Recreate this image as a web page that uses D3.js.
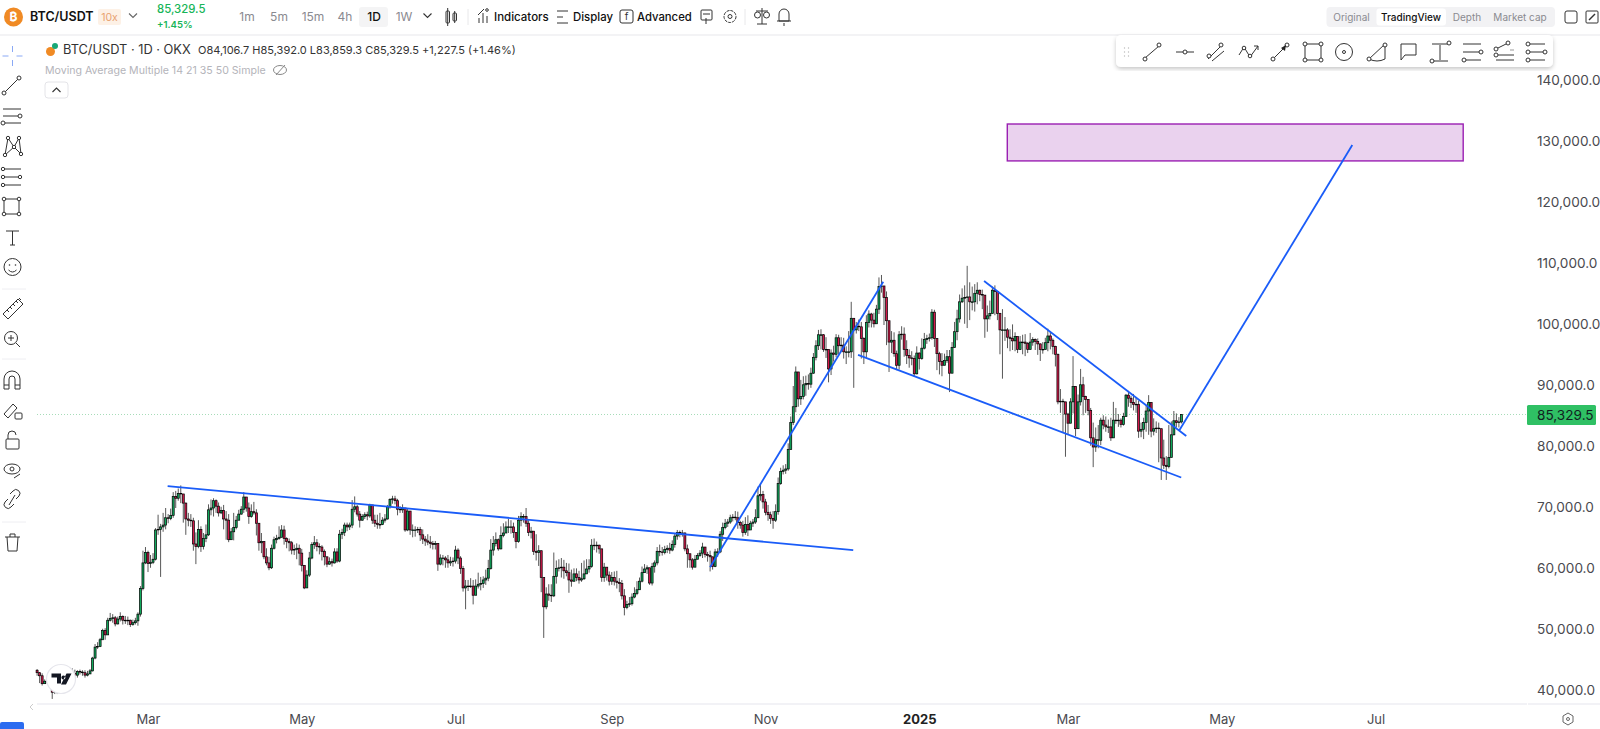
<!DOCTYPE html>
<html>
<head>
<meta charset="utf-8">
<script src="https://d3js.org/d3.v7.min.js"></script>
<style>
body { margin: 0; background: #fff; overflow: hidden; }
svg { display: block; }
text { font-family: Inter, "Noto Sans", sans-serif; }
</style>
</head>
<body>
<svg id="chart" width="1600" height="729"></svg>
<script>
// daily candles, thousands of USDT, first candle 2024-01-17
const firstDay = "2024-01-17"
const firstOpen = 43.4
const closes = [
  43.0,42.5,41.2,41.6,41.6,41.0,39.8,40.0,39.9,41.0,41.9,42.1,42.4,43.2,42.9,
  42.6,43.2,43.1,43.0,42.6,42.8,43.3,45.4,47.2,47.3,48.4,49.9,49.2,51.6,51.9,52.0,51.0,51.8,52.2,51.6,51.5,51.6,50.9,51.2,51.5,52.6,56.8,61.0,62.7,
  60.9,61.1,61.6,66.4,66.5,66.9,67.2,68.4,68.3,68.8,71.9,71.6,72.4,72.3,70.8,68.2,68.0,67.9,64.1,63.7,66.5,63.7,65.0,65.6,69.7,70.0,71.2,70.3,69.2,69.6,68.2,
  68.0,64.8,66.1,66.8,68.0,69.0,69.8,71.8,70.0,68.6,69.4,69.2,67.5,64.3,64.5,62.0,61.0,60.2,63.4,64.8,65.0,65.2,66.4,65.0,64.5,64.3,63.1,63.2,63.4,62.6,
  60.6,56.9,59.0,61.8,64.0,64.3,63.7,63.6,62.9,62.0,60.8,61.2,61.0,62.8,61.3,65.7,66.0,67.2,66.9,67.2,69.8,70.2,69.0,68.0,68.6,68.9,68.7,70.5,68.0,67.5,67.3,
  67.3,68.0,68.2,70.2,71.4,71.5,71.2,69.8,69.7,70.0,66.4,69.5,66.4,66.4,66.4,66.5,65.6,64.9,64.6,64.4,64.2,64.0,64.2,60.8,61.8,61.8,61.5,61.0,61.2,61.3,
  63.1,61.8,60.1,56.9,57.2,57.2,57.2,55.7,57.2,57.5,57.6,58.2,58.5,60.1,63.1,64.2,64.8,63.3,65.5,65.9,66.9,66.9,66.9,66.0,64.5,68.0,68.6,68.6,67.5,66.0,66.2,
  62.9,62.7,63.0,58.6,53.8,55.9,55.7,55.6,58.8,60.1,60.2,60.3,59.7,59.4,58.2,58.0,59.2,58.6,58.2,58.4,59.2,60.0,60.4,63.9,63.9,63.9,63.3,58.6,60.3,59.0,58.0,
  58.6,58.0,57.8,57.6,55.6,53.7,54.2,54.3,55.4,56.0,56.6,58.0,59.4,60.0,60.2,57.7,60.4,61.0,62.9,62.8,62.7,63.2,63.4,63.1,64.0,65.4,66.0,65.9,65.9,63.3,
  62.5,61.5,60.3,61.6,62.2,62.6,63.6,62.4,62.2,62.0,60.4,62.8,62.8,65.7,66.8,67.5,67.7,68.4,68.5,68.4,67.6,67.2,66.0,67.3,66.4,67.5,67.7,68.4,72.0,72.2,71.0,
  69.3,68.9,68.3,68.0,69.4,74.0,76.0,76.2,76.4,79.6,84.0,86.6,92.3,87.9,88.3,90.2,90.4,90.3,92.1,94.7,96.6,98.4,98.4,96.0,96.0,92.8,95.4,95.2,97.9,96.6,
  96.7,95.6,95.6,95.6,101.1,99.2,99.8,99.7,97.8,95.6,100.4,101.8,100.8,100.2,102.6,106.3,106.4,104.5,100.7,97.2,97.5,95.3,93.4,98.4,98.5,96.0,95.0,94.6,94.5,92.0,95.4,
  94.5,96.2,97.6,97.8,97.9,102.1,97.8,95.3,94.0,93.4,94.2,94.8,92.1,96.3,98.9,101.0,103.8,104.4,104.5,104.6,103.8,103.8,105.2,105.7,105.0,104.9,101.0,101.5,101.9,105.7,105.5,
  101.9,99.2,99.2,99.2,98.0,97.8,97.4,98.1,96.0,97.2,97.2,97.0,96.0,97.2,97.6,97.3,96.9,96.0,96.0,97.1,98.2,97.5,96.5,95.2,87.4,87.5,87.4,85.4,
  83.9,87.4,89.9,83.0,87.4,90.2,88.3,87.8,86.0,81.5,80.0,81.2,81.1,84.4,83.6,83.3,83.3,81.5,84.4,84.4,84.4,83.7,85.0,88.5,88.0,87.3,87.0,87.0,82.6,82.9,84.0,
  85.9,87.3,82.6,83.0,83.1,83.0,78.2,77.0,76.8,78.3,82.0,84.3,84.0,84.1067,85.3295
]
const highs = [
  43.6,43.1,42.9,41.9,41.8,42.0,40.6,40.6,40.5,41.3,42.2,42.5,43.2,43.8,43.7,
  43.5,43.4,43.5,43.4,43.4,43.3,43.6,45.6,47.7,48.0,48.7,50.2,50.3,52.0,52.8,52.6,52.3,52.2,52.9,52.4,52.3,52.2,51.7,51.7,52.0,52.9,57.2,63.0,63.6,
  63.0,62.3,62.6,66.7,68.9,67.4,69.2,70.0,69.0,69.9,72.6,72.8,73.2,73.7,72.2,70.9,69.2,69.0,68.4,66.0,68.0,67.0,65.9,67.3,70.6,71.4,71.6,71.4,70.9,70.2,70.5,
  69.5,69.0,66.7,69.2,68.7,69.7,70.3,72.6,71.7,70.9,70.6,71.0,69.8,65.9,65.9,64.0,63.4,62.0,64.0,65.3,65.6,67.0,67.2,67.1,65.2,65.0,64.6,64.0,64.2,64.0,
  63.3,59.6,59.8,62.8,64.4,65.4,64.9,64.2,63.9,63.2,61.8,61.9,61.7,63.4,63.4,66.4,66.6,67.6,67.6,67.6,71.3,71.9,70.5,69.5,69.0,69.3,69.4,70.7,70.1,68.9,68.9,
  69.2,68.5,69.0,70.5,71.6,72.0,72.0,71.5,70.3,70.6,70.0,70.0,67.4,67.3,67.0,66.9,66.9,66.5,65.4,65.7,65.4,64.6,64.6,62.9,62.4,62.3,62.1,62.3,62.0,61.9,
  63.8,63.4,62.1,60.5,58.2,58.2,58.5,58.2,58.3,59.4,58.7,58.8,59.9,61.5,64.9,65.4,66.0,65.0,67.0,67.5,67.8,68.2,68.0,67.6,66.0,68.7,69.3,69.0,70.0,68.0,66.9,
  66.0,65.7,63.9,61.8,58.4,57.0,57.5,57.5,62.7,61.4,61.6,61.8,61.5,61.0,60.9,59.9,60.1,60.1,59.7,61.0,61.4,61.6,61.6,64.9,65.0,64.5,64.0,61.0,61.0,60.3,59.6,
  59.5,59.6,59.7,58.5,58.2,56.7,54.8,55.4,56.0,57.0,58.0,58.6,60.4,60.8,60.6,59.6,61.0,61.4,63.6,64.0,63.6,63.8,63.9,64.3,64.7,65.8,66.4,66.3,66.4,66.0,
  64.0,62.4,61.8,62.3,62.6,63.1,64.3,63.2,62.8,63.0,61.2,63.3,63.4,66.2,67.6,68.2,68.2,68.9,69.0,69.5,69.4,67.9,67.9,68.5,68.8,67.9,68.2,69.8,73.5,73.8,72.8,
  71.5,70.5,69.4,69.5,70.6,75.0,76.6,77.0,77.2,80.6,85.0,90.0,93.2,91.5,91.0,91.6,91.7,91.9,93.0,95.4,97.5,99.2,99.3,98.5,98.0,94.9,96.0,96.6,98.5,98.4,
  98.0,97.9,96.5,99.0,103.8,101.0,100.5,100.9,100.5,98.0,101.6,102.4,102.0,102.0,103.3,107.8,108.2,106.4,105.5,99.8,99.0,98.8,95.8,99.0,99.8,99.6,97.5,96.0,95.7,95.0,96.5,
  95.5,97.8,98.7,98.4,98.6,102.6,102.5,97.2,95.6,95.4,95.3,95.9,95.9,97.2,100.5,102.5,105.0,106.0,106.5,109.7,107.0,106.3,106.7,107.0,105.8,105.8,102.9,103.2,104.0,106.3,106.5,
  105.5,102.0,102.6,101.3,99.5,99.3,100.1,98.8,97.5,98.2,98.4,98.5,97.2,98.7,98.0,97.8,97.8,97.0,97.2,97.9,99.4,98.9,97.8,96.6,95.3,89.5,87.9,86.4,
  85.6,88.0,94.9,90.0,88.6,92.8,91.5,88.4,87.0,86.4,84.0,83.2,83.6,84.8,85.2,85.0,84.5,84.8,87.4,86.4,85.4,84.7,85.6,88.7,89.2,88.4,88.7,88.2,87.6,84.0,84.8,
  86.9,88.5,83.9,84.7,84.2,84.0,81.3,81.2,78.5,83.6,84.2,85.9,85.5,84.9,85.392
]
const lows = [
  42.5,41.3,40.9,41.3,41.2,40.8,38.7,39.5,39.5,39.7,40.8,41.6,41.9,42.2,42.4,
  42.3,42.2,42.7,42.5,42.2,42.4,42.9,43.2,45.2,46.9,47.2,48.4,48.4,49.2,51.4,51.2,50.6,50.9,51.4,50.9,51.0,50.8,50.5,50.7,50.9,50.7,52.2,56.5,60.8,
  59.5,60.2,60.8,61.4,65.6,58.7,66.1,66.5,67.5,68.0,68.4,70.0,71.2,70.8,67.6,65.6,67.0,66.9,63.0,60.8,63.4,62.8,63.2,64.4,65.4,68.8,68.6,69.2,68.6,69.0,66.5,
  64.8,64.4,65.1,64.7,66.5,68.2,68.9,69.2,69.4,67.4,68.4,68.9,65.5,63.0,62.6,61.6,60.6,59.8,60.0,63.2,64.2,64.8,65.2,64.0,63.4,62.9,62.4,62.3,61.6,60.6,
  59.6,56.7,56.9,58.7,61.6,63.3,62.9,62.4,61.4,60.6,60.3,60.7,60.4,60.9,61.0,61.1,64.9,65.4,66.2,66.4,66.7,69.3,68.6,66.8,67.9,68.2,68.0,68.4,67.4,66.9,66.6,
  66.6,67.2,67.6,68.1,69.9,70.7,70.6,68.8,69.2,69.2,66.1,66.2,65.6,65.2,65.3,65.9,64.6,64.1,63.8,63.9,63.4,63.2,63.2,59.7,60.6,60.6,60.2,60.2,60.5,60.4,
  60.9,60.8,59.2,56.3,53.4,56.4,56.9,54.2,56.0,56.8,56.5,56.9,57.4,58.0,59.9,62.2,63.7,63.0,63.2,65.2,65.9,65.9,65.8,65.1,63.4,64.3,67.0,67.6,66.9,65.4,65.0,
  62.3,61.4,60.5,56.2,48.7,53.4,54.8,54.6,55.4,57.6,59.6,58.6,58.4,58.8,56.1,57.1,57.9,58.0,57.6,57.9,58.2,59.5,59.4,60.2,63.1,62.7,62.5,57.9,57.9,58.1,57.3,
  57.4,57.3,56.8,56.2,55.0,52.4,53.4,53.8,54.0,55.2,55.7,56.6,57.8,59.4,59.2,57.4,57.3,59.4,60.6,62.1,62.2,62.4,62.6,62.5,62.9,63.5,64.8,65.2,65.3,62.9,
  60.2,60.2,59.9,60.5,61.8,62.0,61.8,61.9,61.2,59.6,59.9,60.3,62.0,62.6,64.6,66.5,66.9,67.4,67.8,68.0,66.6,66.6,65.3,65.6,65.4,66.6,66.9,67.4,69.1,71.2,69.9,
  68.8,67.9,67.4,66.6,67.7,68.9,73.8,75.5,75.6,76.1,79.8,83.6,85.7,86.6,86.9,87.8,88.4,89.4,89.7,92.0,94.2,95.9,96.0,95.6,94.6,90.6,91.8,94.0,94.7,95.2,
  95.7,94.5,93.6,94.7,94.6,89.7,98.6,99.0,94.5,93.6,94.6,99.6,99.6,99.6,100.2,101.8,105.3,100.0,96.7,92.3,95.4,94.8,92.6,92.7,97.6,94.8,93.6,93.0,93.4,91.5,91.9,
  92.7,94.3,96.0,96.9,97.3,97.6,96.4,92.6,91.9,91.6,93.6,93.8,89.0,94.2,96.5,97.5,100.4,103.6,100.2,99.5,100.8,102.4,102.2,103.4,103.9,102.6,97.9,98.9,100.9,102.5,101.6,
  100.8,95.2,91.2,97.4,96.2,95.7,95.9,95.7,95.4,95.9,95.2,94.9,95.4,96.0,96.6,95.9,95.1,94.1,95.3,96.4,95.7,96.0,95.2,93.2,87.0,85.6,82.3,78.4,
  82.0,84.8,85.5,81.8,83.2,86.8,85.2,85.6,85.2,80.2,76.7,79.2,79.8,80.3,82.9,82.5,82.3,81.0,81.5,83.8,83.3,83.2,83.5,85.0,86.6,86.4,86.0,85.6,81.5,81.6,81.3,
  82.5,82.0,81.6,81.9,82.3,77.5,74.6,76.4,74.6,76.5,78.5,81.9,83.2,83.2,83.859
]

// axis labels
const priceTicks = [40,50,60,70,80,90,100,110,120,130,140]
const timeTicks = ["2024-03-01","2024-05-01","2024-07-01","2024-09-01","2024-11-01","2025-01-01","2025-03-01","2025-05-01","2025-07-01"]
const timeLabels = ["Mar","May","Jul","Sep","Nov","2025","Mar","May","Jul"]
const lastPrice = 85.3295

// drawings on top of the price: [from date, from price, to date, to price]
const trendLines = [
  ["2024-03-08T19:00Z",73.6,"2024-12-05T19:00Z",63.1],
  ["2024-10-10T00:00Z",60.3,"2024-12-17T17:00Z",107.1],
  ["2024-12-07T17:00Z",95.1,"2025-04-14T22:00Z",75.0],
  ["2025-01-26T17:00Z",107.2,"2025-04-16T22:00Z",81.8],
  ["2025-04-14T03:00Z",82.7,"2025-06-21T19:00Z",129.5]
]
const targetBox = ["2025-02-04T22:00Z",132.95,"2025-08-04T19:00Z",126.9]

const svg = d3.select("#chart")
const x = d3.scaleUtc().domain([new Date("2024-03-01"), new Date("2025-07-01")]).range([148, 1375.5])
const y = d3.scaleLinear().domain([40, 140]).range([691, 81])

const candles = closes.map((c, i) => {
  const o = i == 0 ? firstOpen : closes[i - 1]
  return {
    date: d3.utcDay.offset(new Date(firstDay), i),
    o: o, c: c,
    h: Math.max(highs[i], o, c),
    l: Math.min(lows[i], o, c)
  }
})
if (highs.length != closes.length || lows.length != closes.length) console.error("length", closes.length, highs.length, lows.length)

// last price line
svg.append("line").attr("x1", 37).attr("x2", 1527).attr("y1", y(lastPrice)).attr("y2", y(lastPrice))
  .attr("stroke", "#a6dcb9").attr("stroke-dasharray", "1 2")

// candles
const bars = svg.append("g").selectAll("g").data(candles).enter().append("g")
bars.append("line")
  .attr("x1", d => x(d.date)).attr("x2", d => x(d.date))
  .attr("y1", d => y(d.h)).attr("y2", d => y(d.l))
  .attr("stroke", "#111").attr("stroke-width", 1).attr("stroke-opacity", 0.7)
bars.append("rect")
  .attr("x", d => x(d.date) - 1).attr("width", 2)
  .attr("y", d => y(Math.max(d.o, d.c)))
  .attr("height", d => Math.max(0.6, Math.abs(y(d.o) - y(d.c))))
  .attr("fill", d => d.c >= d.o ? "#10a95c" : "#d2184a")
  .attr("stroke", "#000").attr("stroke-width", 0.7)

// target box
svg.append("rect")
  .attr("x", x(new Date(targetBox[0]))).attr("y", y(targetBox[1]))
  .attr("width", x(new Date(targetBox[2])) - x(new Date(targetBox[0])))
  .attr("height", y(targetBox[3]) - y(targetBox[1]))
  .attr("fill", "#ead2ee").attr("stroke", "#9a1fb2").attr("stroke-width", 1.4)

// trend lines
svg.append("g").selectAll("line").data(trendLines).enter().append("line")
  .attr("x1", d => x(new Date(d[0]))).attr("y1", d => y(d[1]))
  .attr("x2", d => x(new Date(d[2]))).attr("y2", d => y(d[3]))
  .attr("stroke", "#1a5cf8").attr("stroke-width", 1.8)

// price axis, labels start at the same x whatever their length
const yAxis = svg.append("g").attr("transform", "translate(1537,0)")
  .call(d3.axisRight(y).tickValues(priceTicks).tickSize(0).tickPadding(0).tickFormat(d => d3.format(",.1f")(d * 1000)))
yAxis.select(".domain").remove()
yAxis.selectAll("text").attr("text-anchor", "start").attr("dy", "0.32em").attr("transform", "translate(0,-1)")
  .style("font-family", "Inter").style("font-size", "13.6px").attr("fill", "#4a4a4f")

svg.append("rect").attr("x", 1527).attr("y", 405).attr("width", 69).attr("height", 20).attr("rx", 1.5).attr("fill", "#2fc064")
svg.append("text").attr("x", 1537).attr("y", 415).attr("dy", "0.35em")
  .attr("font-size", 13.6).attr("fill", "#122").text(d3.format(",.1f")(lastPrice * 1000))

// time axis
svg.append("line").attr("x1", 37).attr("x2", 1527).attr("y1", 704).attr("y2", 704).attr("stroke", "#eeeef3").attr("stroke-width", 1.5)
svg.append("line").attr("x1", 1528).attr("x2", 1600).attr("y1", 704).attr("y2", 704).attr("stroke", "#eeeef3").attr("stroke-width", 1.5)
const xAxis = svg.append("g").attr("transform", "translate(0,704)")
  .call(d3.axisBottom(x).tickValues(timeTicks.map(d => new Date(d))).tickSize(0).tickPadding(0).tickFormat((d, i) => timeLabels[i]))
xAxis.select(".domain").remove()
xAxis.selectAll("text").attr("y", 15).attr("dy", "0.35em")
  .style("font-family", "Inter").style("font-size", "13px")
  .attr("font-weight", (d, i) => timeLabels[i] == "2025" ? 700 : 400)
  .style("fill", (d, i) => timeLabels[i] == "2025" ? "#222" : "#4a4a4f")

// tradingview mark over the first candles
const mark = svg.append("g").attr("transform", "translate(61,679)")
mark.append("circle").attr("r", 14.5).attr("fill", "#fff").attr("stroke", "#e6e6ec").attr("stroke-width", 1.2)
mark.append("path").attr("d", "M-9.5,-5.5H0V4.5H-4V-1.5H-9.5Z M2.4,-3.6a2,2 0 1 0 0.01,0 Z M5.5,-5.5H10.5L5,5.5H0Z").attr("fill", "#131722")

// ---- page chrome ----
const ui = svg.append("g")
function label(px, py, str, size, color, weight, anchor) {
  return ui.append("text").attr("x", px).attr("y", py).attr("dy", "0.35em").attr("font-size", size)
    .attr("fill", color).attr("font-weight", weight || 400).attr("text-anchor", anchor || "start").text(str)
}
function seg(x1, y1, x2, y2, color, w) {
  ui.append("line").attr("x1", x1).attr("y1", y1).attr("x2", x2).attr("y2", y2)
    .attr("stroke", color || "#333").attr("stroke-width", w || 1)
}
function dot(cx, cy, r, color, w) {
  ui.append("circle").attr("cx", cx).attr("cy", cy).attr("r", r || 2).attr("fill", "#fff")
    .attr("stroke", color || "#333").attr("stroke-width", w || 1)
}
function box(px, py, w, h, fill, rx, stroke) {
  return ui.append("rect").attr("x", px).attr("y", py).attr("width", w).attr("height", h)
    .attr("fill", fill).attr("rx", rx || 0).attr("stroke", stroke || "none")
}
function chevron(cx, cy, color, up) {
  const s = up ? -1 : 1
  ui.append("path").attr("d", `M${cx - 4},${cy - 2 * s}L${cx},${cy + 2 * s}L${cx + 4},${cy - 2 * s}`)
    .attr("fill", "none").attr("stroke", color).attr("stroke-width", 1.1)
}

// top bar
seg(0, 35, 1600, 35, "#f3f3f5", 2)
ui.append("circle").attr("cx", 13.5).attr("cy", 17).attr("r", 9.5).attr("fill", "#f08a24")
label(13.5, 17, "₿", 12, "#fff", 700, "middle")
label(30, 17, "BTC/USDT", 12.5, "#111", 600)
box(98, 9, 23, 16, "#fdf1e6", 2)
label(109.5, 17, "10x", 10.5, "#e8a271", 400, "middle")
chevron(133, 15.5, "#666")
label(157, 9.5, "85,329.5", 11.4, "#17b558", 500)
label(157, 25, "+1.45%", 9.6, "#17b558", 600)
box(359, 7, 29, 20, "#f4f4f5", 3)
const frames = [["1m", 247], ["5m", 279], ["15m", 313], ["4h", 345], ["1D", 374], ["1W", 404]]
frames.forEach(f => label(f[1], 17, f[0], 12, f[0] == "1D" ? "#111" : "#8a8a90", f[0] == "1D" ? 500 : 400, "middle"))
chevron(427.5, 15.5, "#333")
// candle type icon
box(446, 11, 3.5, 12, "#fff", 1, "#333"); seg(447.7, 8, 447.7, 26, "#333")
box(453, 13, 3.5, 8, "#fff", 1, "#333"); seg(454.7, 11, 454.7, 23, "#333")
seg(468, 9, 468, 25, "#e8e8ea")
// indicators icon
seg(479, 23, 479, 18, "#333"); seg(483, 23, 483, 13, "#333"); seg(487, 23, 487, 16, "#333")
seg(478, 15, 484, 9, "#333"); dot(487, 10, 1.3, "#333")
label(494, 17, "Indicators", 11.5, "#111", 500)
seg(557, 11, 568, 11, "#333"); seg(557, 17, 563, 17, "#333"); seg(557, 23, 568, 23, "#333")
label(573, 17, "Display", 11.4, "#111", 500)
box(620, 10, 13, 13, "#fff", 2, "#333")
label(626.5, 16.5, "f", 10, "#333", 400, "middle")
label(637, 17, "Advanced", 11.3, "#111", 500)
box(701, 10, 11, 10, "#fff", 1, "#333"); seg(703, 14, 710, 14, "#333"); seg(706, 18, 706, 24, "#333")
ui.append("circle").attr("cx", 730).attr("cy", 16.5).attr("r", 6).attr("fill", "none").attr("stroke", "#333").attr("stroke-dasharray", "3 1")
dot(730, 16.5, 2, "#333")
seg(745, 9, 745, 25, "#e8e8ea")
// balance and bell
seg(762, 8, 762, 24, "#333"); seg(756, 11, 768, 11, "#333"); seg(757, 24, 767, 24, "#333")
dot(757.5, 15, 3, "#333"); dot(766.5, 15, 3, "#333")
ui.append("path").attr("d", "M779,21V14a5,5 0 0 1 10,0V21Z").attr("fill", "none").attr("stroke", "#333")
seg(777, 21, 791, 21, "#333"); seg(784, 23, 784, 26, "#333")
// view switch
box(1326.5, 7, 228.5, 20, "#f2f2f4", 4)
box(1376.5, 8.5, 69.5, 17, "#fff", 3)
label(1351.5, 17, "Original", 10, "#8a8a90", 400, "middle")
label(1411, 17, "TradingView", 10, "#111", 500, "middle")
label(1467, 17, "Depth", 10, "#8a8a90", 400, "middle")
label(1520, 17, "Market cap", 10, "#8a8a90", 400, "middle")
box(1565, 11, 12, 12, "#fff", 2, "#333")
box(1586, 11, 12, 12, "#fff", 1, "#333"); seg(1589, 20, 1595, 14, "#333", 1.4)

// legend
ui.append("circle").attr("cx", 50.5).attr("cy", 51.5).attr("r", 4.5).attr("fill", "#f08a24")
ui.append("circle").attr("cx", 55).attr("cy", 46).attr("r", 3).attr("fill", "#18a878")
label(63, 50, "BTC/USDT · 1D · OKX", 12.8, "#333")
label(198, 50, "O84,106.7  H85,392.0  L83,859.3  C85,329.5  +1,227.5 (+1.46%)", 11, "#333")
label(45, 70, "Moving Average Multiple 14 21 35 50 Simple", 10.6, "#b4b4ba")
ui.append("ellipse").attr("cx", 280).attr("cy", 70).attr("rx", 6.5).attr("ry", 4.5).attr("fill", "none").attr("stroke", "#888")
seg(276, 75, 285, 65, "#888")
box(45, 82, 23, 16, "#fff", 3, "#e4e4e8")
chevron(56.5, 90, "#333", true)

// drawing tools panel
ui.append("defs").append("filter").attr("id", "soft").append("feDropShadow")
  .attr("dx", 0).attr("dy", 2).attr("stdDeviation", 2).attr("flood-color", "#000").attr("flood-opacity", 0.22)
box(1116, 35, 437, 32, "#fff", 5).attr("filter", "url(#soft)")
for (const dy of [-4, 0, 4]) { for (const dx of [-2, 2]) ui.append("circle").attr("cx", 1126.5 + dx).attr("cy", 52 + dy).attr("r", 0.7).attr("fill", "#bbb") }
const cy = 52
seg(1145, cy + 6, 1159, cy - 6); dot(1145, cy + 7, 2); dot(1159, cy - 7, 2)
seg(1176, cy, 1194, cy); dot(1185, cy, 2)
seg(1208, cy + 7, 1222, cy - 7); seg(1212, cy + 9, 1224, cy - 1); dot(1209, cy + 4, 2); dot(1221, cy - 7, 2)
ui.append("path").attr("d", `M1239,${cy + 3}L1244,${cy - 5}L1250,${cy + 5}L1258,${cy - 6}M1254,${cy - 6}H1258V${cy - 2}`).attr("fill", "none").attr("stroke", "#333")
dot(1244, cy - 4, 1.8); dot(1250, cy + 4, 1.8)
seg(1273, cy + 7, 1287, cy - 7); dot(1273, cy + 7, 2); dot(1287, cy - 7, 2)
ui.append("path").attr("d", `M1281,${cy - 4}l5,-3l-1,6Z`).attr("fill", "#222")
box(1305, cy - 8, 16, 16, "#fff", 0, "#333")
for (const p of [[1305, cy - 8], [1321, cy - 8], [1305, cy + 8], [1321, cy + 8]]) dot(p[0], p[1], 2)
dot(1344, cy, 8.5); dot(1344, cy, 1.5)
ui.append("path").attr("d", `M1369,${cy + 7}L1385,${cy - 8}V${cy + 7}Q1377,${cy + 11} 1369,${cy + 7}Z`).attr("fill", "#fff").attr("stroke", "#333")
dot(1385, cy - 7, 2); dot(1369, cy + 7, 2)
ui.append("path").attr("d", `M1401,${cy - 8}H1416V${cy + 3}H1405L1401,${cy + 8}Z`).attr("fill", "#fff").attr("stroke", "#333")
// height measure
seg(1432, cy - 8, 1448, cy - 8); seg(1432, cy + 9, 1448, cy + 9); seg(1440, cy - 7, 1440, cy + 8)
dot(1449, cy - 9, 2); dot(1432, cy + 9, 2)
// horizontal lines
for (const dy of [-8, 0, 8]) seg(1463, cy + dy, 1481, cy + dy)
dot(1481, cy, 2); dot(1464, cy + 8, 2)
// fib
seg(1496, cy - 3, 1508, cy - 9); dot(1508, cy - 9, 2); dot(1496, cy - 3, 2); dot(1496, cy + 3, 2)
seg(1498, cy + 3, 1514, cy + 3); seg(1496, cy + 8, 1514, cy + 8); seg(1510, cy - 2, 1514, cy - 2, "#999")
// channel
for (const dy of [-8, 0, 8]) seg(1528, cy + dy, 1545, cy + dy)
dot(1528, cy - 8, 2); dot(1545, cy, 2); dot(1528, cy, 2); dot(1528, cy + 8, 2)

// left tools, each row drawn at its own height
const side = 12.5
seg(side, 46, side, 52, "#8aa9f5"); seg(side, 60, side, 66, "#8aa9f5"); seg(side - 10, 56, side - 4, 56, "#8aa9f5"); seg(side + 4, 56, side + 10, 56, "#8aa9f5")
seg(5, 92, 18, 79); dot(4, 93, 2); dot(19, 78, 2)
for (const r of [109, 116, 123]) seg(3, r, 21, r)
dot(20, 116, 2); dot(3, 123, 2)
ui.append("path").attr("d", "M5,155L8,138L14,147L19,138L21,154L14,147L5,155").attr("fill", "none").attr("stroke", "#333")
for (const p of [[5, 155], [8, 138], [14, 147], [19, 138], [21, 154]]) dot(p[0], p[1], 1.7)
seg(3, 169, 21, 169); seg(3, 177, 21, 177); seg(3, 185, 21, 185); dot(3, 169, 1.7); dot(20, 177, 1.7); dot(3, 177, 1.7); dot(3, 185, 1.7)
box(4, 199, 15, 15, "#fff", 0, "#333")
for (const p of [[4, 199], [19, 199], [4, 214], [19, 214]]) dot(p[0], p[1], 1.8)
seg(6, 231, 19, 231); seg(12.5, 231, 12.5, 245); seg(10, 245, 15, 245)
dot(12.5, 267, 8.5); ui.append("path").attr("d", "M8.5,270Q12.5,274 16.5,270").attr("fill", "none").attr("stroke", "#333")
ui.append("circle").attr("cx", 9.5).attr("cy", 265).attr("r", 0.8).attr("fill", "#333"); ui.append("circle").attr("cx", 15.5).attr("cy", 265).attr("r", 0.8).attr("fill", "#333")
seg(2, 289, 26, 289, "#eeeef2")
// ruler with marks
ui.append("path").attr("d", "M3,314L18,299L23,304L8,319Z").attr("fill", "#fff").attr("stroke", "#333")
for (const t of [0, 1, 2, 3, 4]) seg(7 + t * 3, 310 - t * 3, 9 + t * 3, 312 - t * 3)
dot(11, 338, 6.5); seg(8, 338, 14, 338); seg(11, 335, 11, 341); seg(16, 343, 20, 347)
seg(2, 359, 26, 359, "#eeeef2")
ui.append("path").attr("d", "M4,389V379a8,8 0 0 1 16,0V389H15V379a3,3 0 0 0 -6,0V389Z").attr("fill", "#fff").attr("stroke", "#333")
seg(4, 385, 9, 385); seg(15, 385, 20, 385)
ui.append("path").attr("d", "M4,414L13,404L17,408L8,418Z").attr("fill", "#fff").attr("stroke", "#333")
box(15, 413, 7, 6, "#fff", 1, "#333")
box(6, 439, 13, 10, "#fff", 1, "#333"); ui.append("path").attr("d", "M8,439V435a4,4 0 0 1 8,0").attr("fill", "none").attr("stroke", "#333")
ui.append("ellipse").attr("cx", 12).attr("cy", 469).attr("rx", 8).attr("ry", 5).attr("fill", "none").attr("stroke", "#333")
dot(12, 469, 2); seg(14, 478, 20, 474)
// chain link
ui.append("path").attr("d", "M10,494l3,-3a3.5,3.5 0 0 1 6,5l-3,3M14,504l-3,3a3.5,3.5 0 0 1 -6,-5l3,-3").attr("fill", "none").attr("stroke", "#333")
seg(9, 505, 15, 495)
seg(2, 522, 26, 522, "#eeeef2")
seg(5, 537, 20, 537); ui.append("path").attr("d", "M7,537L8,551H17L18,537M10,537V534H15V537").attr("fill", "none").attr("stroke", "#333")

// bottom corner bits
ui.append("path").attr("d", "M33,704L30,707L33,710").attr("fill", "none").attr("stroke", "#ccc")
ui.append("path").attr("d", "M1568,713L1573,716V722L1568,725L1563,722V716Z").attr("fill", "none").attr("stroke", "#666")
ui.append("circle").attr("cx", 1568).attr("cy", 719).attr("r", 1.5).attr("fill", "none").attr("stroke", "#666")
box(0, 722, 24, 10, "#2c6cf0", 2)
</script>
</body>
</html>
